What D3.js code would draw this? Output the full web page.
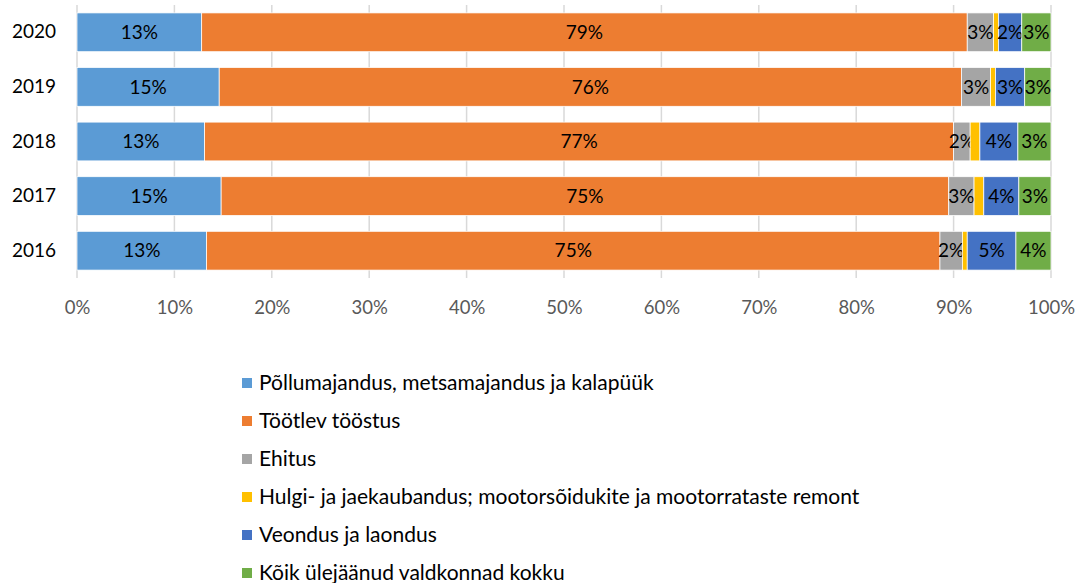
<!DOCTYPE html>
<html>
<head>
<meta charset="utf-8">
<script src="https://cdn.jsdelivr.net/npm/d3@7"></script>
<style>
    body { margin: 0; background: #fff; }
    text { font-family: Lato, "Liberation Sans", sans-serif; }
</style>
</head>
<body>
<script>
"use strict";

// data (percent of total, per year)
var years = ["2020", "2019", "2018", "2017", "2016"];
var seriesNames = [
    "Põllumajandus, metsamajandus ja kalapüük",
    "Töötlev tööstus",
    "Ehitus",
    "Hulgi- ja jaekaubandus; mootorsõidukite ja mootorrataste remont",
    "Veondus ja laondus",
    "Kõik ülejäänud valdkonnad kokku"
];
var pollumajandus = [12.8, 14.6, 13.1, 14.8, 13.3];
var tootlev = [78.6, 76.2, 76.9, 74.7, 75.3];
var ehitus = [2.7, 3.0, 1.7, 2.6, 2.3];
var kaubandus = [0.5, 0.5, 1.0, 1.0, 0.5];
var veondus = [2.4, 3.0, 3.9, 3.6, 5.0];
var muud = [3.0, 2.7, 3.4, 3.3, 3.6];
var xTicks = [0, 10, 20, 30, 40, 50, 60, 70, 80, 90, 100];

var seriesValues = [pollumajandus, tootlev, ehitus, kaubandus, veondus, muud];
var colours = ["#5B9BD5", "#ED7D31", "#A5A5A5", "#FFC000", "#4472C4", "#70AD47"];
var showLabel = [true, true, true, false, true, true]; // yellow series has no labels

var width = 1079,
    height = 583;

// build rows for the stack generator
var keys = seriesNames.map(function (d, i) { return "s" + i; });
var table = years.map(function (y, j) {
    var row = { year: y };
    keys.forEach(function (k, i) { row[k] = seriesValues[i][j]; });
    return row;
});
var stacked = d3.stack().keys(keys)(table);

var x = d3.scaleLinear().domain([0, 100]).range([77, 1051]);
var y = d3.scaleBand().domain(years).range([5, 278]).paddingInner(0.29).paddingOuter(0.145);

var svg = d3.select("body").append("svg")
    .attr("width", width)
    .attr("height", height);

// vertical gridlines
svg.append("g")
    .selectAll("line")
    .data(xTicks)
    .enter().append("line")
    .attr("x1", function (d) { return x(d); })
    .attr("x2", function (d) { return x(d); })
    .attr("y1", 5)
    .attr("y2", 278)
    .attr("stroke", "#D9D9D9")
    .attr("stroke-width", 1.5);

// x axis labels
var xAxis = d3.axisBottom(x).tickValues(xTicks)
    .tickFormat(function (d) { return d + "%"; })
    .tickSize(0).tickPadding(0);
var gx = svg.append("g").attr("transform", "translate(0,301)").call(xAxis);
gx.select(".domain").remove();
gx.selectAll("text")
    .attr("dy", "0.71em")
    .style("font-family", "Lato, sans-serif")
    .style("font-size", "18.5px")
    .attr("fill", "#595959");

// y axis labels
var yAxis = d3.axisLeft(y).tickSize(0).tickPadding(0);
var gy = svg.append("g").attr("transform", "translate(56,0)").call(yAxis);
gy.select(".domain").remove();
gy.selectAll("text")
    .style("font-family", "Lato, sans-serif")
    .style("font-size", "19px")
    .attr("fill", "#000");

// stacked bars
var layers = svg.append("g").selectAll("g")
    .data(stacked)
    .enter().append("g")
    .attr("fill", function (d, i) { return colours[i]; });

layers.selectAll("rect")
    .data(function (d) { return d; })
    .enter().append("rect")
    .attr("x", function (d) { return x(d[0]); })
    .attr("width", function (d) { return x(d[1]) - x(d[0]); })
    .attr("y", function (d) { return y(d.data.year); })
    .attr("height", y.bandwidth())
    .attr("stroke", "#fff")
    .attr("stroke-width", 0.75);

// data labels
layers.filter(function (d, i) { return showLabel[i]; })
    .selectAll("text")
    .data(function (d) { return d; })
    .enter().append("text")
    .attr("x", function (d) { return (x(d[0]) + x(d[1])) / 2; })
    .attr("y", function (d) { return y(d.data.year) + y.bandwidth() / 2; })
    .attr("dy", "0.35em")
    .attr("text-anchor", "middle")
    .attr("fill", "#000")
    .style("font-size", "19px")
    .text(function (d) { return Math.round(d[1] - d[0]) + "%"; });

// legend, one entry per row
var legend = svg.append("g")
    .selectAll("g")
    .data(seriesNames)
    .enter().append("g")
    .attr("transform", function (d, i) { return "translate(242," + (383 + i * 38) + ")"; });

legend.append("rect")
    .attr("x", 0)
    .attr("y", -5)
    .attr("width", 10)
    .attr("height", 10)
    .attr("fill", function (d, i) { return colours[i]; });

legend.append("text")
    .attr("x", 17)
    .attr("dy", "0.35em")
    .style("font-size", "21px")
    .attr("fill", "#000")
    .text(function (d) { return d; });
</script>
</body>
</html>
